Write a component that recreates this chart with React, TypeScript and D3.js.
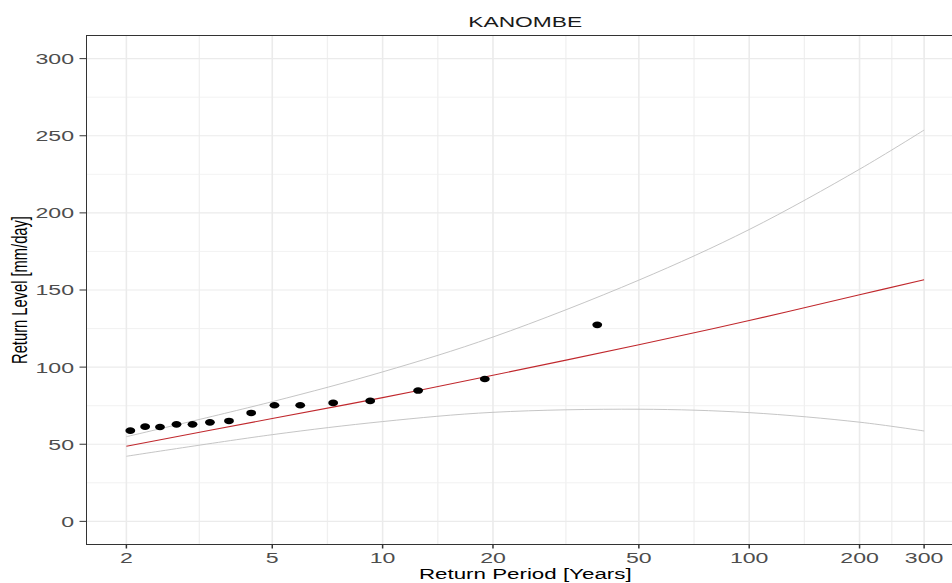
import React from "react";
import * as d3 from "d3";

// ---- data ----
const obsPeriod = [2.05, 2.25, 2.47, 2.74, 3.03, 3.38, 3.81, 4.38, 5.07, 5.96, 7.33, 9.25, 12.5, 19.0, 38.5];
const obsLevel = [58.8, 61.4, 61.2, 62.9, 62.9, 64.2, 65.1, 70.3, 75.3, 75.3, 76.8, 78.1, 84.8, 92.3, 127.4];

const curvePeriod = [2, 5, 10, 20, 50, 100, 200, 300];
const fitLevel = [48.7, 66.7, 80.2, 94.7, 114.5, 130.2, 146.9, 156.6];
const upperLevel = [54.9, 77.6, 96.9, 119.5, 156.4, 189.2, 228.3, 253.7];
const lowerLevel = [42.2, 56.2, 64.7, 70.7, 72.7, 70.5, 64.3, 58.6];

const xTicks = [2, 5, 10, 20, 50, 100, 200, 300];
const yTicks = [0, 50, 100, 150, 200, 250, 300];

const titleText = "KANOMBE";
const xTitle = "Return Period [Years]";
const yTitle = "Return Level [mm/day]";

// ---- layout ----
const W = 952;
const H = 583;
const left = 86.5;
const right = 964;
const top = 35.5;
const bottom = 544.5;
const SX = 1.52; // horizontal stretch of the picture
const FONT = "'Liberation Sans', Arial, Helvetica, sans-serif";

export default function App() {
  const xMin = 2, xMax = 300;
  const span = Math.log10(xMax / xMin);
  const x = d3
    .scaleLog()
    .domain([xMin / Math.pow(10, 0.05 * span), xMax * Math.pow(10, 0.05 * span)])
    .range([left, right]);
  const y = d3.scaleLinear().domain([-15, 315]).range([bottom, top]);

  const xMinor: number[] = [];
  for (let i = 0; i < xTicks.length - 1; i++) xMinor.push(Math.sqrt(xTicks[i] * xTicks[i + 1]));
  const yMinor: number[] = [];
  for (let i = 0; i < yTicks.length - 1; i++) yMinor.push((yTicks[i] + yTicks[i + 1]) / 2);

  const line = d3
    .line<[number, number]>()
    .x((d) => x(d[0]))
    .y((d) => y(d[1]))
    .curve(d3.curveCatmullRom.alpha(0.5));

  const mk = (vals: number[]) => line(curvePeriod.map((p, i) => [p, vals[i]] as [number, number])) || "";

  const cx = (left + right) / 2;
  const cy = (top + bottom) / 2;

  return (
    <svg
      width={W}
      height={H}
      style={{ position: "absolute", left: 0, top: 0, background: "#fff" }}
      fontFamily={FONT}
    >
      <rect x={0} y={0} width={W} height={H} fill="#fff" />
      {/* grid */}
      <g>
        {yMinor.map((v) => (
          <line key={"ym" + v} x1={left} x2={right} y1={y(v)} y2={y(v)} stroke="#F0F0F0" strokeWidth={0.9} />
        ))}
        {xMinor.map((v) => (
          <line key={"xm" + v} x1={x(v)} x2={x(v)} y1={top} y2={bottom} stroke="#F0F0F0" strokeWidth={1.3} />
        ))}
        {yTicks.map((v) => (
          <line key={"yM" + v} x1={left} x2={right} y1={y(v)} y2={y(v)} stroke="#EBEBEB" strokeWidth={1.1} />
        ))}
        {xTicks.map((v) => (
          <line key={"xM" + v} x1={x(v)} x2={x(v)} y1={top} y2={bottom} stroke="#EBEBEB" strokeWidth={1.6} />
        ))}
      </g>
      {/* lines */}
      <path d={mk(upperLevel)} fill="none" stroke="#BEBEBE" strokeWidth={0.9} />
      <path d={mk(lowerLevel)} fill="none" stroke="#BEBEBE" strokeWidth={0.9} />
      <path d={mk(fitLevel)} fill="none" stroke="#C0282D" strokeWidth={1.1} />
      {/* points */}
      {obsPeriod.map((p, i) => (
        <ellipse key={"p" + i} cx={x(p)} cy={y(obsLevel[i])} rx={4.9} ry={3.3} fill="#000" />
      ))}
      {/* panel border */}
      <rect x={left} y={top} width={right - left} height={bottom - top} fill="none" stroke="#333333" strokeWidth={1} />
      {/* y axis ticks */}
      {yTicks.map((v) => (
        <g key={"yt" + v}>
          <line x1={left - 7} x2={left} y1={y(v)} y2={y(v)} stroke="#333333" strokeWidth={1} />
          <g transform={`translate(${left - 12.5},${y(v)}) scale(${SX},1)`}>
            <text textAnchor="end" dy="0.36em" fontSize={15.2} fill="#4D4D4D">
              {v}
            </text>
          </g>
        </g>
      ))}
      {/* x axis ticks */}
      {xTicks.map((v) => (
        <g key={"xt" + v}>
          <line x1={x(v)} x2={x(v)} y1={bottom} y2={bottom + 4} stroke="#333333" strokeWidth={1.5} />
          <g transform={`translate(${x(v)},${563}) scale(${SX},1)`}>
            <text textAnchor="middle" fontSize={15.2} fill="#4D4D4D">
              {v}
            </text>
          </g>
        </g>
      ))}
      {/* title */}
      <g transform={`translate(${cx},27.3) scale(${SX},1)`}>
        <text textAnchor="middle" fontSize={15} fill="#1A1A1A">
          {titleText}
        </text>
      </g>
      {/* x title */}
      <g transform={`translate(${cx},579) scale(${SX},1)`}>
        <text textAnchor="middle" fontSize={14.7} fill="#000">
          {xTitle}
        </text>
      </g>
      {/* y title */}
      <g transform={`translate(27,${cy}) scale(${SX},1) rotate(-90)`}>
        <text textAnchor="middle" fontSize={14.7} fill="#000">
          {yTitle}
        </text>
      </g>
    </svg>
  );
}
